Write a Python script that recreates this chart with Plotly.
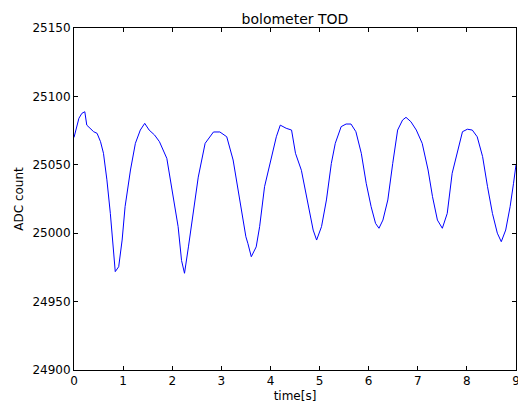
import plotly.graph_objects as go

time_s = [0.00, 0.03, 0.10, 0.16, 0.22, 0.26, 0.33, 0.40, 0.47, 0.54, 0.60, 0.67, 0.74, 0.79, 0.84, 0.91,
          0.98, 1.04, 1.15, 1.25, 1.35, 1.44, 1.53, 1.64, 1.74, 1.89, 2.02, 2.12, 2.19, 2.25, 2.33,
          2.43, 2.53, 2.67, 2.84, 2.97, 3.11, 3.24, 3.38, 3.50, 3.54, 3.61, 3.71, 3.78, 3.88, 4.02,
          4.12, 4.20, 4.32, 4.43, 4.51, 4.63, 4.77, 4.87, 4.94, 5.04, 5.14, 5.24, 5.32, 5.44, 5.54,
          5.64, 5.74, 5.85, 5.95, 6.05, 6.14, 6.21, 6.29, 6.39, 6.49, 6.59, 6.69, 6.76, 6.86, 6.97,
          7.09, 7.16, 7.21, 7.30, 7.40, 7.50, 7.60, 7.70, 7.81, 7.91, 8.01, 8.11, 8.21, 8.32, 8.42,
          8.52, 8.62, 8.70, 8.79, 8.88, 8.95, 9.00]
adc_count = [25070, 25074, 25084, 25087.6, 25088.8, 25079, 25076.7, 25074.2, 25073, 25066.9, 25058.4,
             25039, 25014.5, 24992.6, 24971.9, 24975.5, 24995, 25019.4, 25046.2, 25065.7, 25075.4,
             25080.3, 25075.4, 25071.8, 25066.9, 25054.7, 25026.7, 25004.8, 24980, 24970.7, 24990,
             25017, 25041, 25065.7, 25074, 25074, 25070.5, 25053.5, 25024, 24997.4, 24992.6, 24982.8,
             24990, 25004.8, 25034, 25056, 25070.5, 25079, 25076.7, 25075.4, 25058.4, 25046, 25021.8,
             25002.3, 24995, 25004.8, 25024.3, 25051, 25065.7, 25077.9, 25079.8, 25079.8, 25074.2,
             25058.4, 25036.5, 25019.4, 25007.2, 25003.6, 25009.6, 25024.3, 25051, 25075.4, 25082.7,
             25084.7, 25081.5, 25075.4, 25065.7, 25053.5, 25046.2, 25026.7, 25009.6, 25003.6, 25014.5,
             25043.8, 25060.8, 25074.2, 25076, 25075.4, 25070.5, 25056, 25034, 25014.5, 25000, 24993.8,
             25002.3, 25019.4, 25036.5, 25050]

x_ticks = list(range(0, 10))
y_ticks = [24900, 24950, 25000, 25050, 25100, 25150]

fig = go.Figure()
fig.add_trace(go.Scatter(x=time_s, y=adc_count, mode="lines",
                         line=dict(color="#0000ff", width=1), showlegend=False))

axis_common = dict(showgrid=False, zeroline=False, showline=True, linecolor="black", linewidth=1,
                   mirror="ticks", ticks="inside", ticklen=4, tickcolor="black",
                   ticklabeloverflow="allow",
                   tickfont=dict(family="DejaVu Sans", size=12, color="black"))

fig.update_layout(
    width=518, height=403,
    margin=dict(l=74, r=2, t=28, b=33, autoexpand=False),
    paper_bgcolor="white", plot_bgcolor="white",
    title=dict(text="bolometer TOD", x=0.5695, xanchor="center", y=0.953, yanchor="middle",
               font=dict(family="DejaVu Sans", size=14, color="black")),
    xaxis=dict(range=[0, 9], tickvals=x_ticks, tickformat="d",
               title=dict(text="time[s]", standoff=4, font=dict(family="DejaVu Sans", size=12, color="black")),
               **axis_common),
    yaxis=dict(range=[24900, 25150], tickvals=y_ticks, tickformat="d",
               title=dict(text="ADC count", standoff=6, font=dict(family="DejaVu Sans", size=12, color="black")),
               **axis_common),
)

# remove the default page margin so the 518x403 figure fills the window without scrollbars
fig.write_html("out.html",
               config={"displayModeBar": False},
               post_script="document.body.style.margin='0';document.body.style.overflow='hidden';")
